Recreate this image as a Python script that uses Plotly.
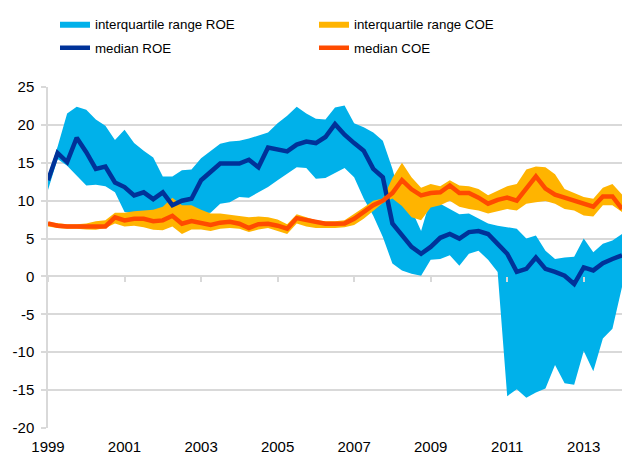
import plotly.graph_objects as go

# quarterly observations 1999Q1 .. 2014Q1
start_year = 1999
n_quarters = 61
periods = [start_year + q * 0.25 for q in range(n_quarters)]

roe_median = [12.7, 16.3, 15.1, 18.3, 16.4, 14.2, 14.5, 12.4, 11.8, 10.7,
              11.1, 10.2, 11.1, 9.4, 10.0, 10.25, 12.7, 13.8, 14.9, 14.9,
              14.9, 15.4, 14.4, 17.0, 16.7, 16.5, 17.4, 17.8, 17.6, 18.4,
              20.1, 18.7, 17.6, 16.6, 14.2, 13.1, 7.0, 5.4, 3.9, 3.0,
              3.9, 5.1, 5.6, 5.0, 5.85, 6.0, 5.6, 4.3, 3.0, 0.6,
              1.0, 2.5, 1.0, 0.6, 0.1, -1.0, 1.2, 0.8, 1.75, 2.3, 2.8]

roe_q3 = [13.3, 17.1, 21.5, 22.4, 22.0, 20.7, 19.9, 18.0, 19.35, 17.6,
          16.6, 15.7, 13.2, 13.2, 14.0, 14.1, 15.6, 16.6, 17.5, 17.8,
          17.9, 18.2, 18.6, 19.0, 20.2, 21.2, 22.4, 21.5, 20.8, 20.7,
          22.3, 22.55, 20.2, 19.7, 19.0, 17.9, 14.2, 9.6, 8.8, 6.0,
          10.3, 9.6, 8.8, 8.2, 8.3, 7.6, 7.0, 6.7, 6.5, 6.3,
          5.0, 5.4, 3.4, 2.3, 2.5, 2.6, 5.0, 3.2, 4.3, 4.75, 5.6]

roe_q1 = [11.4, 15.5, 14.6, 13.3, 12.0, 12.1, 11.9, 11.1, 8.5, 8.3,
          8.4, 8.5, 8.7, 8.8, 8.6, 8.4, 8.3, 8.4, 9.6, 9.8,
          10.5, 10.4, 11.1, 11.8, 12.7, 13.5, 14.4, 14.3, 12.9, 13.0,
          13.6, 14.3, 13.1, 10.3, 8.0, 5.2, 1.7, 0.8, 0.35, 0.1,
          2.2, 2.3, 2.8, 1.4, 3.0, 3.4, 2.2, 0.6, -15.8, -14.9,
          -16.0, -15.3, -14.8, -11.7, -14.1, -14.3, -9.85, -12.5, -8.2, -6.9, -1.4]

coe_median = [7.0, 6.7, 6.6, 6.6, 6.6, 6.5, 6.6, 7.8, 7.4, 7.6,
              7.6, 7.3, 7.4, 8.0, 6.95, 7.3, 7.1, 6.8, 7.1, 7.2,
              6.95, 6.4, 6.9, 6.95, 6.7, 6.3, 7.7, 7.4, 7.1, 6.95,
              6.95, 7.0, 7.6, 8.5, 9.4, 10.0, 11.0, 12.7, 11.5, 10.7,
              11.0, 11.1, 12.0, 11.0, 11.0, 10.4, 9.6, 10.1, 10.4, 10.0,
              11.6, 13.2, 11.6, 10.8, 10.4, 10.0, 9.5, 9.2, 10.55, 10.55, 8.9]

coe_q3 = [7.2, 7.0, 6.9, 6.9, 7.0, 7.3, 7.4, 8.4, 8.4, 8.6,
          8.7, 8.8, 9.2, 10.4, 9.4, 9.4, 8.8, 8.3, 8.3, 8.1,
          7.9, 7.8, 7.9, 7.8, 7.5, 6.9, 8.2, 7.8, 7.4, 7.3,
          7.3, 7.4, 8.2, 9.1, 10.0, 10.3, 13.0, 15.0, 13.1, 11.7,
          12.2, 11.9, 12.7, 12.0, 11.9, 11.55, 10.7, 11.35, 11.9, 12.2,
          14.1, 14.5, 14.4, 13.5, 11.55, 11.0, 10.5, 10.25, 11.7, 12.2, 10.8]

coe_q1 = [6.6, 6.4, 6.3, 6.3, 6.2, 6.15, 6.4, 7.0, 6.6, 6.7,
          6.5, 6.15, 6.1, 6.6, 5.6, 6.2, 6.2, 6.0, 6.3, 6.4,
          6.3, 5.85, 6.2, 6.4, 6.0, 5.6, 7.0, 6.6, 6.4, 6.4,
          6.4, 6.5, 6.8, 7.6, 8.7, 9.7, 10.3, 9.3, 7.8, 7.4,
          9.1, 9.4, 10.0, 9.2, 8.9, 8.7, 8.3, 8.6, 8.9, 8.7,
          9.6, 9.8, 9.95, 9.6, 8.9, 8.7, 8.05, 7.9, 9.4, 9.4, 8.5]

tick_years = [1999, 2001, 2003, 2005, 2007, 2009, 2011, 2013]
tick_labels = [str(y) for y in tick_years]
y_ticks = [-20, -15, -10, -5, 0, 5, 10, 15, 20, 25]
y_tick_labels = [str(v) for v in y_ticks]

BLUE_BAND = "#00B1EA"
ORANGE_BAND = "#FFB400"
DARK_BLUE = "#003299"
RED_ORANGE = "#FF4B00"
GRID = "#d9d9d9"
FONT = "Liberation Sans, Arial, sans-serif"

fig = go.Figure()

fig.add_trace(go.Scatter(x=periods, y=roe_q1, mode="lines", line=dict(width=0),
                         showlegend=False, hoverinfo="skip"))
fig.add_trace(go.Scatter(x=periods, y=roe_q3, mode="lines", line=dict(width=0),
                         fill="tonexty", fillcolor=BLUE_BAND,
                         name="interquartile range ROE", legend="legend"))
fig.add_trace(go.Scatter(x=periods, y=coe_q1, mode="lines", line=dict(width=0),
                         showlegend=False, hoverinfo="skip"))
fig.add_trace(go.Scatter(x=periods, y=coe_q3, mode="lines", line=dict(width=0),
                         fill="tonexty", fillcolor=ORANGE_BAND,
                         name="interquartile range COE", legend="legend"))
fig.add_trace(go.Scatter(x=periods, y=roe_median, mode="lines",
                         line=dict(color=DARK_BLUE, width=4.5),
                         name="median ROE", legend="legend2"))
fig.add_trace(go.Scatter(x=periods, y=coe_median, mode="lines",
                         line=dict(color=RED_ORANGE, width=4.5),
                         name="median COE", legend="legend2"))
# empty trace to carry the secondary x axis (tick marks on the zero line)
fig.add_trace(go.Scatter(x=[], y=[], xaxis="x2", showlegend=False))

legend_common = dict(orientation="h", xanchor="left", yanchor="middle",
                     xref="container", yref="container",
                     font=dict(family=FONT, size=13.3, color="#000"),
                     entrywidth=214, entrywidthmode="pixels",
                     bgcolor="rgba(0,0,0,0)", borderwidth=0,
                     traceorder="normal")

fig.update_layout(
    width=622, height=455,
    margin=dict(l=48, r=0, t=87, b=27, autoexpand=False),
    paper_bgcolor="white", plot_bgcolor="white",
    font=dict(family=FONT, size=15, color="#000"),
    legend=dict(x=55 / 622, y=1 - 24 / 455, **legend_common),
    legend2=dict(x=55 / 622, y=1 - 48 / 455, **legend_common),
    xaxis=dict(range=[1999, 2014], tickvals=tick_years, ticktext=tick_labels,
               showgrid=False, zeroline=False, showline=False, ticks="",
               automargin=False, ticklabelstandoff=8, tickfont=dict(size=15)),
    xaxis2=dict(range=[1999, 2014], tickvals=tick_years, overlaying="x",
                anchor="free", position=20 / 45, side="bottom",
                ticks="outside", ticklen=5, tickwidth=1.5, tickcolor=GRID,
                automargin=False,
                showticklabels=False, showgrid=False, zeroline=False, showline=False),
    yaxis=dict(range=[-20, 25], tickvals=y_ticks, ticktext=y_tick_labels,
               showgrid=True, gridcolor=GRID,
               gridwidth=1.5, zeroline=True, zerolinecolor=GRID, zerolinewidth=1.5,
               showline=True, linecolor=GRID, linewidth=1.5, automargin=False,
               ticks="outside", ticklen=5, tickcolor=GRID, tickwidth=1.5,
               ticklabelstandoff=4, tickfont=dict(size=15)),
)

fig.write_html("out.html",
               config={"displayModeBar": False},
               post_script="document.body.style.margin='0px';"
                           "document.body.style.overflow='hidden';")
